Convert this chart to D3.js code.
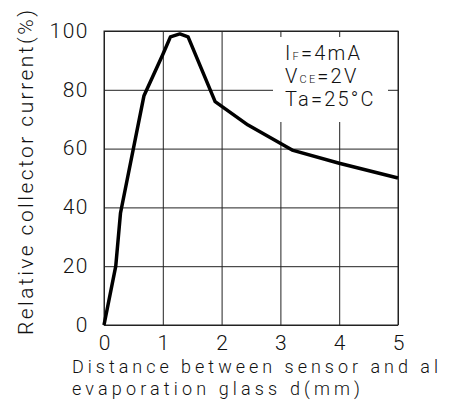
<!DOCTYPE html>
<html>
<head>
<meta charset="utf-8">
<script src="https://cdn.jsdelivr.net/npm/d3@7"></script>
<style>
  body { margin: 0; background: #fff; }
  text { font-family: Roboto, "DejaVu Sans", sans-serif; font-weight: 300; fill: #111; }
</style>
</head>
<body>
<div id="main"></div>
<script>
// distance d (mm) vs relative collector current (%)
const distance = [0, 0.2, 0.28, 0.68, 1.0, 1.13, 1.29, 1.43, 1.89, 2.45, 3.2, 4.0, 5.0];
const current  = [0, 20, 38, 78, 92, 98, 99, 98, 76, 68, 59.5, 55, 50];
const xTicks = [0, 1, 2, 3, 4, 5];
const yTicks = [0, 20, 40, 60, 80, 100];
const xTitle = ["Distance between sensor and al", "evaporation glass d(mm)"];
const yTitle = "Relative collector current(%)";

const W = 451, H = 409;
const margin = { top: 31, right: 53, bottom: 84, left: 104 };
const w = W - margin.left - margin.right;
const h = H - margin.top - margin.bottom;

const svg = d3.select("#main").append("svg")
    .attr("width", W)
    .attr("height", H);

const g = svg.append("g")
    .attr("transform", `translate(${margin.left},${margin.top})`);

const x = d3.scaleLinear().domain([0, 5]).range([0, w]);
const y = d3.scaleLinear().domain([0, 100]).range([h, 0]);

// grid + ticks
const gx = g.append("g")
    .attr("transform", `translate(0,${h})`)
    .call(d3.axisBottom(x).tickValues(xTicks).tickSize(-h).tickPadding(10).tickFormat(d3.format("d")));
const gy = g.append("g")
    .call(d3.axisLeft(y).tickValues(yTicks).tickSize(-w).tickPadding(15).tickFormat(d3.format("d")));

[gx, gy].forEach(a => {
    a.select(".domain").remove();
    a.selectAll("line").attr("stroke", "#222").attr("stroke-width", 1);
    a.selectAll("text")
        .style("font-family", "Roboto, sans-serif")
        .style("font-weight", 300)
        .style("font-size", "21px")
        .style("letter-spacing", "1.5px")
        .attr("fill", "#111");
});
gy.selectAll("text").attr("dy", "0.3em");
gx.selectAll("text").attr("dy", "0.72em").attr("dx", "0.75px");

// frame
g.append("rect")
    .attr("width", w).attr("height", h)
    .attr("fill", "none").attr("stroke", "#222").attr("stroke-width", 1);

// condition box (covers the grid)
g.append("rect")
    .attr("x", 169).attr("y", 6)
    .attr("width", 115).attr("height", 85)
    .attr("fill", "#fff");

const notes = g.append("g").attr("transform", "translate(181,0)")
    .style("font-size", "20px")
    .style("letter-spacing", "2.2px");
const n1 = notes.append("text").attr("y", 29);
n1.append("tspan").text("I");
n1.append("tspan").style("font-size", "11px").text("F");
n1.append("tspan").text("=4mA");
const n2 = notes.append("text").attr("y", 52);
n2.append("tspan").text("V");
n2.append("tspan").style("font-size", "11px").text("CE");
n2.append("tspan").text("=2V");
notes.append("text").attr("y", 75).text("Ta=25°C");

// curve
const pts = distance.map((d, i) => [d, current[i]]);
g.append("path")
    .datum(pts)
    .attr("fill", "none")
    .attr("stroke", "#000")
    .attr("stroke-width", 3.5)
    .attr("stroke-linejoin", "round")
    .attr("d", d3.line().x(d => x(d[0])).y(d => y(d[1])));

// axis titles
svg.append("text")
    .attr("x", 72).attr("y", 373)
    .attr("textLength", 366).attr("lengthAdjust", "spacing")
    .style("font-size", "18px")
    .text(xTitle[0]);
svg.append("text")
    .attr("x", 72).attr("y", 395)
    .attr("textLength", 288).attr("lengthAdjust", "spacing")
    .style("font-size", "18px")
    .text(xTitle[1]);

svg.append("text")
    .attr("transform", "translate(33,335) rotate(-90)")
    .attr("textLength", 325).attr("lengthAdjust", "spacing")
    .style("font-size", "21px")
    .text(yTitle);
</script>
</body>
</html>
